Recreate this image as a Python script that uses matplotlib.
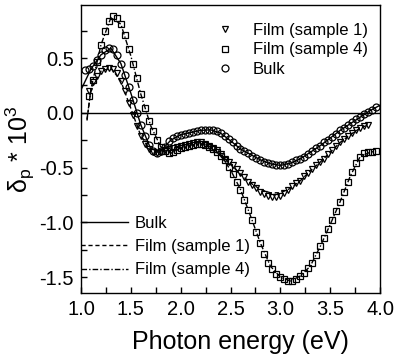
import matplotlib
matplotlib.use('Agg')
import matplotlib.pyplot as plt

plt.rcParams['font.family'] = ['Liberation Sans', 'DejaVu Sans']
plt.rcParams['mathtext.fontset'] = 'custom'
plt.rcParams['mathtext.rm'] = 'Liberation Sans'
plt.rcParams['mathtext.it'] = 'Liberation Sans:italic'
plt.rcParams['axes.unicode_minus'] = False

# measured points (eV, delta_p * 10^3)
energy = [1.04, 1.08, 1.12, 1.16, 1.20, 1.24, 1.28, 1.32, 1.36, 1.40,
	1.44, 1.48, 1.52, 1.56, 1.60, 1.64, 1.68, 1.72, 1.76, 1.80,
	1.84, 1.88, 1.92, 1.96, 2.00, 2.04, 2.08, 2.12, 2.16, 2.20,
	2.24, 2.28, 2.32, 2.36, 2.40, 2.44, 2.48, 2.52, 2.56, 2.60,
	2.64, 2.68, 2.72, 2.76, 2.80, 2.84, 2.88, 2.92, 2.96, 3.00,
	3.04, 3.08, 3.12, 3.16, 3.20, 3.24, 3.28, 3.32, 3.36, 3.40,
	3.44, 3.48, 3.52, 3.56, 3.60, 3.64, 3.68, 3.72, 3.76, 3.80,
	3.84, 3.88, 3.92, 3.96]

bulk = [0.39, 0.40, 0.43, 0.48, 0.53, 0.57, 0.59, 0.58, 0.53, 0.45,
	0.35, 0.24, 0.12, 0.00, -0.11, -0.21, -0.29, -0.35, -0.37, -0.35,
	-0.31, -0.26, -0.23, -0.21, -0.20, -0.19, -0.18, -0.175, -0.165, -0.16,
	-0.155, -0.155, -0.16, -0.17, -0.185, -0.21, -0.24, -0.27, -0.30, -0.33,
	-0.35, -0.37, -0.39, -0.41, -0.43, -0.45, -0.46, -0.47, -0.48, -0.48,
	-0.475, -0.465, -0.45, -0.435, -0.42, -0.40, -0.375, -0.35, -0.325, -0.30,
	-0.27, -0.245, -0.22, -0.19, -0.16, -0.14, -0.11, -0.085, -0.06, -0.04,
	-0.01, 0.01, 0.03, 0.05]

# films start at 1.08 eV
film1 = [0.20, 0.28, 0.34, 0.38, 0.40, 0.41, 0.40, 0.36, 0.29,
	0.20, 0.09, -0.02, -0.12, -0.21, -0.28, -0.33, -0.36, -0.37, -0.36,
	-0.34, -0.33, -0.32, -0.31, -0.30, -0.29, -0.28, -0.275, -0.27, -0.27,
	-0.28, -0.30, -0.32, -0.34, -0.38, -0.42, -0.45, -0.48, -0.51, -0.55,
	-0.59, -0.63, -0.66, -0.69, -0.72, -0.74, -0.76, -0.77, -0.77, -0.76,
	-0.73, -0.70, -0.67, -0.645, -0.62, -0.58, -0.55, -0.51, -0.48, -0.45,
	-0.42, -0.38, -0.34, -0.30, -0.27, -0.24, -0.21, -0.18, -0.16, -0.14,
	-0.12, -0.11]

film4 = [0.15, 0.30, 0.46, 0.62, 0.75, 0.84, 0.88, 0.87, 0.81,
	0.71, 0.58, 0.45, 0.32, 0.17, 0.04, -0.07, -0.17, -0.25, -0.31,
	-0.35, -0.37, -0.36, -0.34, -0.32, -0.31, -0.30, -0.29, -0.28, -0.28,
	-0.29, -0.31, -0.33, -0.36, -0.39, -0.43, -0.49, -0.56, -0.63, -0.70,
	-0.80, -0.89, -0.98, -1.09, -1.19, -1.29, -1.37, -1.43, -1.47, -1.50,
	-1.52, -1.535, -1.535, -1.52, -1.49, -1.46, -1.42, -1.37, -1.30, -1.22,
	-1.14, -1.06, -0.98, -0.90, -0.81, -0.72, -0.63, -0.54, -0.46, -0.40,
	-0.37, -0.36, -0.36, -0.35]

# calculated curves
fitEnergyBulk = [1.00, 1.10, 1.20, 1.30, 1.40, 1.50, 1.60, 1.70, 1.80, 1.90,
	2.00, 2.10, 2.20, 2.30, 2.40, 2.50, 2.60, 2.70, 2.80, 2.90,
	3.00, 3.10, 3.20, 3.30, 3.40, 3.50, 3.60, 3.70, 3.80, 3.90, 4.00]
fitBulk = [0.21, 0.40, 0.53, 0.59, 0.45, 0.18, -0.11, -0.33, -0.35, -0.25,
	-0.20, -0.18, -0.16, -0.155, -0.185, -0.255, -0.33, -0.38, -0.43, -0.465,
	-0.48, -0.46, -0.42, -0.36, -0.30, -0.23, -0.16, -0.10, -0.04, 0.02, 0.07]

fitEnergyFilm = [1.06, 1.10, 1.20, 1.30, 1.40, 1.50, 1.60, 1.70, 1.80, 1.90,
	2.00, 2.10, 2.20, 2.30, 2.40, 2.50, 2.60, 2.70, 2.80, 2.90,
	3.00, 3.10, 3.20, 3.30, 3.40, 3.50, 3.60, 3.70, 3.80, 3.88]
fitFilm1 = [-0.07, 0.22, 0.38, 0.41, 0.29, 0.04, -0.21, -0.35, -0.36, -0.32,
	-0.30, -0.28, -0.27, -0.31, -0.38, -0.47, -0.56, -0.64, -0.70, -0.73,
	-0.73, -0.69, -0.62, -0.53, -0.45, -0.36, -0.27, -0.20, -0.14, -0.11]

fitEnergyFilm4 = [1.06, 1.10, 1.20, 1.30, 1.40, 1.50, 1.60, 1.70, 1.80, 1.90,
	2.00, 2.10, 2.20, 2.30, 2.40, 2.50, 2.60, 2.70, 2.80, 2.90,
	3.00, 3.10, 3.20, 3.30, 3.40, 3.50, 3.60, 3.70, 3.80, 3.90, 3.96]
fitFilm4 = [-0.06, 0.22, 0.62, 0.87, 0.81, 0.52, 0.17, -0.12, -0.31, -0.37,
	-0.32, -0.295, -0.28, -0.32, -0.39, -0.52, -0.70, -0.94, -1.19, -1.40,
	-1.50, -1.535, -1.49, -1.40, -1.22, -1.02, -0.81, -0.58, -0.40, -0.36, -0.35]


fig = plt.figure(figsize=(3.94, 3.56), dpi=100)
ax = fig.add_axes([0.2056, 0.177, 0.759, 0.809])

ax.axhline(0, color='black', lw=1.0, zorder=1)

l1, = ax.plot(fitEnergyBulk, fitBulk, color='black', lw=1.0, ls='-', zorder=2)
l2, = ax.plot(fitEnergyFilm, fitFilm1, color='black', lw=1.0, dashes=(3, 2), zorder=2)
l3, = ax.plot(fitEnergyFilm4, fitFilm4, color='black', lw=1.0, dashes=(4, 1.5, 1, 1.5), zorder=2)

mk = dict(ls='none', mfc='none', mec='black', mew=0.9, zorder=3)
m1, = ax.plot(energy[1:72], film1, marker='v', ms=5, **mk)
m4, = ax.plot(energy[1:], film4, marker='s', ms=5, **mk)
m0, = ax.plot(energy, bulk, marker='o', ms=5, **mk)

ax.set_xlim(1.0, 4.0)
ax.set_ylim(-1.645, 0.985)
ax.set_xticks([1.0, 1.5, 2.0, 2.5, 3.0, 3.5, 4.0])
ax.set_xticks([1.25, 1.75, 2.25, 2.75, 3.25, 3.75], minor=True)
ax.set_yticks([-1.5, -1.0, -0.5, 0.0, 0.5])
ax.set_yticks([-1.25, -0.75, -0.25, 0.25, 0.75], minor=True)
ax.tick_params(which='both', direction='in', length=4, width=1, labelsize=14.5, pad=5)
for s in ax.spines.values():
	s.set_linewidth(1.0)

ax.set_xlabel('Photon energy (eV)', fontsize=18)
ax.xaxis.set_label_coords(0.532, -0.13)
ax.set_ylabel(r'δ$_\mathrm{p}$ * 10$^3$', fontsize=18, labelpad=2)

leg1 = ax.legend([m1, m4, m0], ['Film (sample 1)', 'Film (sample 4)', 'Bulk'],
	loc='center left', bbox_to_anchor=(0.4535, 0.844), frameon=False, fontsize=12,
	handlelength=1.0, handletextpad=1.18, labelspacing=0.28, borderpad=0, borderaxespad=0)
ax.add_artist(leg1)
ax.legend([l1, l2, l3], ['Bulk', 'Film (sample 1)', 'Film (sample 4)'],
	loc='center left', bbox_to_anchor=(0.0, 0.161), frameon=False, fontsize=12,
	handlelength=2.8, handletextpad=0.42, labelspacing=0.5, borderpad=0, borderaxespad=0)

fig.savefig('out.png', dpi=100)
